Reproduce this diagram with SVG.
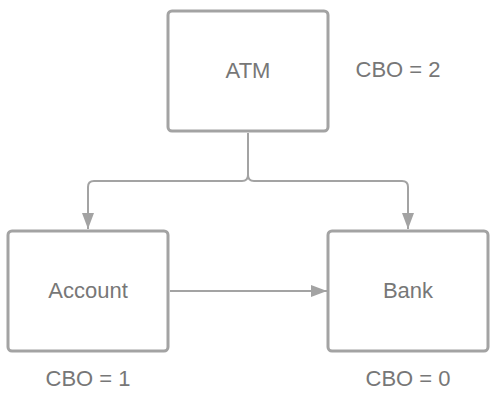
<svg xmlns="http://www.w3.org/2000/svg" width="496" height="402" viewBox="0 0 496 402">
<style>
.box{fill:#fff;stroke:#a3a3a3;stroke-width:3}
.lbl{font-family:"Liberation Sans",Arial,sans-serif;font-size:22px;fill:#777;text-anchor:middle}
.con{fill:none;stroke:#a3a3a3;stroke-width:2}
</style>
<defs>
<marker id="arr" markerWidth="16" markerHeight="12" viewBox="0 0 16 12" refX="16" refY="6" orient="auto" markerUnits="userSpaceOnUse">
<path d="M0,0 L16,6 L0,12 Z" fill="#a3a3a3"/>
</marker>
</defs>
<rect width="496" height="402" fill="#fff"/>
<g id="connectors">
<path class="con" d="M248,133 V175 Q248,181 242,181 H94 Q88,181 88,187 V229" marker-end="url(#arr)"/>
<path class="con" d="M248,175 Q248,181 254,181 H402 Q408,181 408,187 V229" marker-end="url(#arr)"/>
<path class="con" d="M170,291 H327" marker-end="url(#arr)"/>
</g>
<g id="atm">
<rect class="box" x="168" y="11" width="160" height="120" rx="4"/>
<text class="lbl" x="248" y="78">ATM</text>
</g>
<g id="account">
<rect class="box" x="8" y="231" width="160" height="120" rx="4"/>
<text class="lbl" x="88" y="298">Account</text>
</g>
<g id="bank">
<rect class="box" x="328" y="231" width="160" height="120" rx="4"/>
<text class="lbl" x="408" y="298">Bank</text>
</g>
<g id="cbo-labels">
<text class="lbl" x="398" y="77">CBO = 2</text>
<text class="lbl" x="88" y="386">CBO = 1</text>
<text class="lbl" x="408" y="386">CBO = 0</text>
</g>
</svg>
